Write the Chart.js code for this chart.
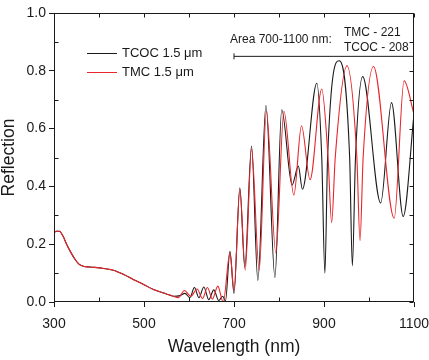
<!DOCTYPE html>
<html>
<head>
<meta charset="utf-8">
<title>Reflection</title>
<script src="https://cdn.jsdelivr.net/npm/chart.js@4/dist/chart.umd.min.js"></script>
<style>
    html, body { margin: 0; padding: 0; background: #fff; }
    #reflectionChart { display: block; }
</style>
</head>
<body>
<canvas id="reflectionChart" width="429" height="360"></canvas>
<script>
// TCOC 1.5 um - wavelength (nm) / reflection
const tcocNm = [300, 305, 312, 320, 328, 338, 347, 356, 365, 380,
    402, 432, 455, 476, 500, 521, 550, 565, 580, 591,
    602, 612, 622, 633, 644, 655, 666, 675, 681, 691,
    700, 713, 724, 739, 753, 771, 791, 806, 829, 843,
    852, 884, 895, 902, 908, 934, 957, 963, 970, 986,
    1026, 1050, 1076, 1100];
const tcocR = [0.24, 0.245, 0.245, 0.228, 0.20, 0.17, 0.147, 0.13, 0.124, 0.121,
    0.118, 0.11, 0.095, 0.078, 0.06, 0.043, 0.028, 0.02, 0.022, 0.03,
    0.015, 0.05, 0.015, 0.052, 0.008, 0.042, 0.005, 0.02, 0.003, 0.175,
    0.03, 0.395, 0.12, 0.54, 0.075, 0.68, 0.085, 0.665, 0.405, 0.47,
    0.39, 0.757, 0.5, 0.10, 0.5, 0.835, 0.5, 0.125, 0.5, 0.78,
    0.343, 0.69, 0.296, 0.65];

// TMC 1.5 um - wavelength (nm) / reflection
const tmcNm = [300, 305, 312, 320, 328, 338, 347, 356, 365, 380,
    402, 432, 455, 476, 500, 521, 550, 565, 576, 590,
    604, 618, 630, 641, 652, 664, 676, 691, 700, 713,
    725, 739, 756, 772, 793, 811, 833, 850, 869, 895,
    909, 917, 925, 951, 973, 980, 987, 1010, 1056, 1078,
    1100];
const tmcR = [0.24, 0.245, 0.245, 0.228, 0.20, 0.17, 0.147, 0.13, 0.124, 0.121,
    0.118, 0.11, 0.095, 0.078, 0.06, 0.043, 0.028, 0.02, 0.015, 0.04,
    0.02, 0.045, 0.012, 0.05, 0.01, 0.055, 0.0, 0.17, 0.04, 0.39,
    0.11, 0.53, 0.11, 0.66, 0.17, 0.66, 0.37, 0.61, 0.423, 0.737,
    0.5, 0.274, 0.5, 0.817, 0.5, 0.212, 0.5, 0.815, 0.29, 0.765,
    0.65];

const seriesLabels = ["TCOC 1.5 \u03bcm", "TMC 1.5 \u03bcm"];
const xTickLabels = [300, 500, 700, 900, 1100];
const yTickLabels = [0.0, 0.2, 0.4, 0.6, 0.8, 1.0];

// bracket "Area 700-1100 nm"
const areaRange = [700, 1100];
const areaLevel = 0.85;
const areaTitle = "Area 700-1100 nm:";
const areaValues = ["TMC - 221", "TCOC - 208"];

const INK = "#1a1a1a";
const RED = "#e8262b";

Chart.defaults.font.family = "'Liberation Sans', Arial, sans-serif";
Chart.defaults.color = INK;

function toPoints(xs, ys) {
    return xs.map((x, i) => ({ x: x, y: ys[i] }));
}

/**
 * Ramka wykresu, male znaczniki (do srodka) i legenda z opisem obszaru.
 */
const framePlugin = {
    id: "frame",
    afterDatasetsDraw(chart) {
        const { ctx, chartArea: a, scales: { x, y } } = chart;
        const left = Math.round(a.left) + 0.5;
        const right = Math.round(a.right) - 0.5;
        const top = Math.round(a.top) + 0.5;
        const bottom = Math.round(a.bottom) - 0.5;

        ctx.save();
        ctx.strokeStyle = INK;
        ctx.lineWidth = 1;
        ctx.strokeRect(left, top, right - left, bottom - top);

        ctx.beginPath();
        for (let v = x.min; v <= x.max; v += 100) {
            const px = Math.round(x.getPixelForValue(v)) + 0.5;
            ctx.moveTo(px, top);
            ctx.lineTo(px, top + 4);
            if (!xTickLabels.includes(v)) {
                ctx.moveTo(px, bottom);
                ctx.lineTo(px, bottom - 4);
            }
        }
        for (let i = 0; i <= 10; i++) {
            const py = Math.round(y.getPixelForValue(i / 10)) + 0.5;
            ctx.moveTo(right, py);
            ctx.lineTo(right - 4, py);
            if (i % 2 === 1) {
                ctx.moveTo(left, py);
                ctx.lineTo(left + 4, py);
            }
        }
        ctx.stroke();

        // legenda
        const colors = [INK, RED];
        ctx.font = "13px 'Liberation Sans', Arial, sans-serif";
        ctx.textBaseline = "middle";
        ctx.textAlign = "left";
        seriesLabels.forEach((label, i) => {
            const ly = Math.round(a.top + 40 + i * 18.5) + 0.5;
            ctx.strokeStyle = colors[i];
            ctx.beginPath();
            ctx.moveTo(a.left + 33, ly);
            ctx.lineTo(a.left + 63, ly);
            ctx.stroke();
            ctx.fillStyle = INK;
            ctx.fillText(label, a.left + 68, ly);
        });

        // opis obszaru 700-1100 nm
        const bracketY = y.getPixelForValue(areaLevel);
        ctx.font = "12px 'Liberation Sans', Arial, sans-serif";
        ctx.fillText(areaTitle, x.getPixelForValue(areaRange[0]) - 4, bracketY - 17);
        areaValues.forEach((txt, i) => {
            ctx.fillText(txt, x.getPixelForValue(areaRange[0]) + 110, bracketY - 24 + i * 15.5);
        });
        ctx.restore();
    }
};

const data = {
    datasets: [{
        label: "area",
        data: toPoints(areaRange, [areaLevel, areaLevel]),
        borderColor: INK,
        borderWidth: 1,
        pointStyle: "line",
        rotation: 90,
        pointRadius: [3, 0],
        pointBorderColor: INK,
        pointBorderWidth: 1,
        order: 0
    }, {
        label: seriesLabels[0],
        data: toPoints(tcocNm, tcocR),
        borderColor: INK,
        borderWidth: 1.1,
        pointRadius: 0,
        cubicInterpolationMode: "monotone",
        order: 2
    }, {
        label: seriesLabels[1],
        data: toPoints(tmcNm, tmcR),
        borderColor: RED,
        borderWidth: 1.1,
        pointRadius: 0,
        cubicInterpolationMode: "monotone",
        order: 1
    }]
};

const config = {
    type: "line",
    data: data,
    options: {
        responsive: false,
        animation: false,
        layout: { padding: { top: 13, right: 15, left: 0, bottom: 0 } },
        plugins: { legend: { display: false }, tooltip: { enabled: false } },
        scales: {
            x: {
                type: "linear",
                min: 300,
                max: 1100,
                afterBuildTicks: s => { s.ticks = xTickLabels.map(v => ({ value: v })); },
                afterFit: s => {
                    s.height = 58;
                    s.paddingLeft = 0;
                    s.paddingRight = 0;
                },
                ticks: {
                    autoSkip: false,
                    maxRotation: 0,
                    padding: 9,
                    font: { size: 14 },
                    color: INK,
                    callback: v => String(v)
                },
                grid: { drawOnChartArea: false, tickLength: 5, color: INK },
                border: { display: false },
                title: {
                    display: true,
                    text: "Wavelength (nm)",
                    font: { size: 17.5, lineHeight: 1 },
                    padding: { top: 0, bottom: 4 },
                    color: INK
                }
            },
            y: {
                min: 0,
                max: 1,
                afterBuildTicks: s => { s.ticks = yTickLabels.map(v => ({ value: v })); },
                afterFit: s => {
                    s.width = 54;
                    s.paddingTop = 0;
                    s.paddingBottom = 0;
                },
                ticks: {
                    padding: 3,
                    font: { size: 14 },
                    color: INK,
                    callback: v => Number(v).toFixed(1)
                },
                grid: { drawOnChartArea: false, tickLength: 5, color: INK },
                border: { display: false },
                title: {
                    display: true,
                    text: "Reflection",
                    font: { size: 17.5, lineHeight: 1 },
                    padding: { top: 0, bottom: 0 },
                    color: INK
                }
            }
        }
    },
    plugins: [framePlugin]
};

new Chart(document.getElementById("reflectionChart"), config);
</script>
</body>
</html>
